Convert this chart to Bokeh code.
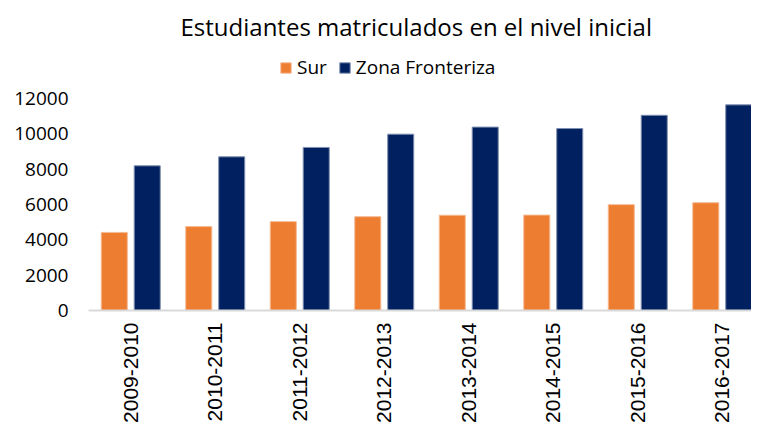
from bokeh.plotting import figure
from bokeh.models import ColumnDataSource, Range1d, FixedTicker, Legend, LegendItem, Title
from bokeh.transform import dodge
from bokeh.embed import file_html
from bokeh.resources import INLINE
import math

categories = ["2009-2010", "2010-2011", "2011-2012", "2012-2013",
              "2013-2014", "2014-2015", "2015-2016", "2016-2017"]
sur = [4420, 4750, 5030, 5310, 5390, 5400, 5990, 6100]
zona_fronteriza = [8190, 8700, 9230, 9980, 10380, 10300, 11050, 11640]
y_ticks = [0, 2000, 4000, 6000, 8000, 10000, 12000]

ORANGE = "#ED7D31"
NAVY = "#002060"

xpos = [i + 0.5 for i in range(len(categories))]
src = ColumnDataSource(dict(x=xpos, sur=sur, zf=zona_fronteriza, cat=categories))

# frame extends above the 12000 tick to leave room for the legend
p = figure(width=751, height=427, output_backend="svg", toolbar_location=None,
           x_range=Range1d(0, len(categories) - 0.154), y_range=Range1d(0, 15000),
           min_border_left=88, min_border_right=0, min_border_top=45, min_border_bottom=117)

r1 = p.vbar(x=dodge("x", -0.195, range=p.x_range), top="sur", width=0.308, source=src,
            fill_color=ORANGE, line_color="#F6B990", line_width=1)
r2 = p.vbar(x=dodge("x", 0.195, range=p.x_range), top="zf", width=0.308, source=src,
            fill_color=NAVY, line_color="#7F8FB0", line_width=1)

p.title = Title(text="Estudiantes matriculados en el nivel inicial", align="left",
                text_font="Open Sans", text_font_size="24px", text_font_style="normal",
                text_color="#000000", offset=92, standoff=5)

legend = Legend(items=[LegendItem(label="Sur", renderers=[r1]),
                       LegendItem(label="Zona Fronteriza", renderers=[r2])],
                orientation="horizontal", location=(191, 230),
                label_text_font="Open Sans", label_text_font_size="19px",
                label_text_color="#000000", glyph_width=13, glyph_height=13,
                label_standoff=5, spacing=11, padding=0, margin=0,
                border_line_color=None, background_fill_alpha=0)
p.add_layout(legend, "center")

p.xgrid.visible = False
p.ygrid.visible = False
p.outline_line_color = None

p.xaxis.ticker = FixedTicker(ticks=xpos)
p.xaxis.major_label_overrides = {x: c for x, c in zip(xpos, categories)}
p.xaxis.major_label_orientation = math.pi / 2
p.xaxis.major_label_text_font = "Liberation Sans"
p.xaxis.major_label_text_font_size = "21px"
p.xaxis.major_label_text_color = "#000000"
p.xaxis.axis_line_color = "#D9D9D9"
p.xaxis.axis_line_width = 2
p.xaxis.major_tick_line_color = None
p.xaxis.minor_tick_line_color = None
p.xaxis.major_tick_out = 0
p.xaxis.major_label_standoff = 12

p.yaxis.ticker = FixedTicker(ticks=y_ticks)
p.yaxis.axis_line_color = None
p.yaxis.major_tick_line_color = None
p.yaxis.minor_tick_line_color = None
p.yaxis.major_tick_out = 0
p.yaxis.major_label_standoff = 20
p.yaxis.major_label_text_font = "Open Sans"
p.yaxis.major_label_text_font_size = "19px"
p.yaxis.major_label_text_color = "#000000"

open("out.html", "w").write(file_html(p, INLINE))
